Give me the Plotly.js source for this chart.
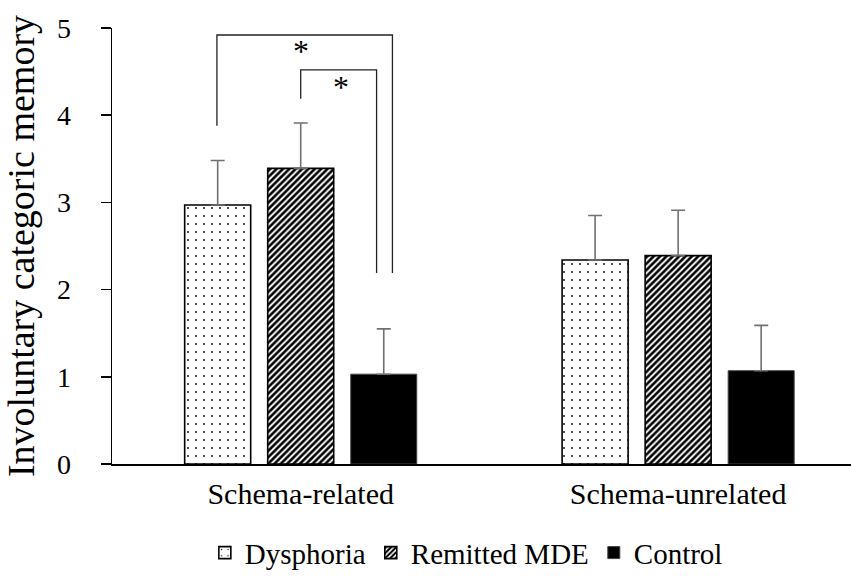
<!DOCTYPE html>
<html>
<head>
<meta charset="utf-8">
<script src="https://cdn.plot.ly/plotly-3.0.1.min.js"></script>
<style>html,body{margin:0;padding:0;background:#fff;}#chart{width:851px;height:580px;}</style>
</head>
<body>
<div id="chart"></div>
<script>
const categories = ['Schema-related', 'Schema-unrelated'];
const seriesNames = ['Dysphoria', 'Remitted MDE', 'Control'];
const dysphoria = [2.97, 2.34];
const dysphoriaErr = [0.51, 0.51];
const remitted = [3.39, 2.39];
const remittedErr = [0.52, 0.52];
const control = [1.03, 1.07];
const controlErr = [0.52, 0.52];
const yTicks = [0, 1, 2, 3, 4, 5];

const FONT = '"Liberation Serif", "Times New Roman", serif';
const errStyle = {type: 'data', symmetric: false, arrayminus: [0, 0], color: '#707070', thickness: 1.6, width: 7};

const traces = [
  {type: 'bar', name: seriesNames[0], x: categories, y: dysphoria,
   error_y: Object.assign({array: dysphoriaErr}, errStyle),
   marker: {color: 'white', line: {color: 'black', width: 1.6},
            pattern: {shape: '.', fgcolor: 'black', bgcolor: 'white', size: 8, solidity: 0.04, fillmode: 'replace'}}},
  {type: 'bar', name: seriesNames[1], x: categories, y: remitted,
   error_y: Object.assign({array: remittedErr}, errStyle),
   marker: {color: 'white', line: {color: 'black', width: 1.6},
            pattern: {shape: '/', fgcolor: 'black', bgcolor: 'white', size: 4.5, solidity: 0.58, fillmode: 'replace'}}},
  {type: 'bar', name: seriesNames[2], x: categories, y: control,
   error_y: Object.assign({array: controlErr}, errStyle),
   marker: {color: 'black', line: {color: '#444', width: 1}}}
];

const bracketLine = {color: '#222', width: 1.3};
const shapes = [
  // outer bracket: Dysphoria vs Control
  {type: 'path', xref: 'x', yref: 'y', path: 'M -0.222,3.88 L -0.222,4.92 L 0.243,4.92 L 0.243,2.19', line: bracketLine},
  // inner bracket: Remitted vs Control
  {type: 'path', xref: 'x', yref: 'y', path: 'M 0,4.19 L 0,4.52 L 0.201,4.52 L 0.201,2.19', line: bracketLine}
];

const annotations = [
  {x: 0, y: 4.74, xref: 'x', yref: 'y', text: '*', showarrow: false, font: {family: FONT, size: 32, color: 'black'}},
  {x: 0.108, y: 4.32, xref: 'x', yref: 'y', text: '*', showarrow: false, font: {family: FONT, size: 32, color: 'black'}}
];

const layout = {
  width: 851, height: 580,
  margin: {l: 112, r: 0, t: 28, b: 116, pad: 0},
  paper_bgcolor: 'white', plot_bgcolor: 'white',
  font: {family: FONT, color: 'black', size: 29},
  barmode: 'group', bargap: 0.34, bargroupgap: 0.205,
  showlegend: true,
  legend: {orientation: 'h', x: 0.548, xref: 'container', xanchor: 'center', y: 0.047, yref: 'container', yanchor: 'middle',
           font: {family: FONT, size: 29, color: 'black'}, itemwidth: 30, tracegroupgap: 0},
  xaxis: {type: 'category', range: [-0.5, 1.458], showgrid: false, zeroline: false,
          showline: true, linecolor: 'black', linewidth: 1.5, ticks: '', ticklabelstandoff: 2,
          tickfont: {family: FONT, size: 30, color: 'black'}},
  yaxis: {range: [0, 5], tickvals: yTicks, ticktext: yTicks.map(String), showgrid: false, zeroline: false,
          showline: true, linecolor: 'black', linewidth: 1.5, ticks: 'outside', ticklen: 10, tickwidth: 1.5, tickcolor: 'black',
          tickfont: {family: FONT, size: 28, color: 'black'}, ticklabelstandoff: 24,
          title: {text: 'Involuntary categoric memory', font: {family: FONT, size: 38, color: 'black'}, standoff: 16}},
  shapes: shapes,
  annotations: annotations
};

Plotly.newPlot('chart', traces, layout, {displayModeBar: false, staticPlot: true});
</script>
</body>
</html>
